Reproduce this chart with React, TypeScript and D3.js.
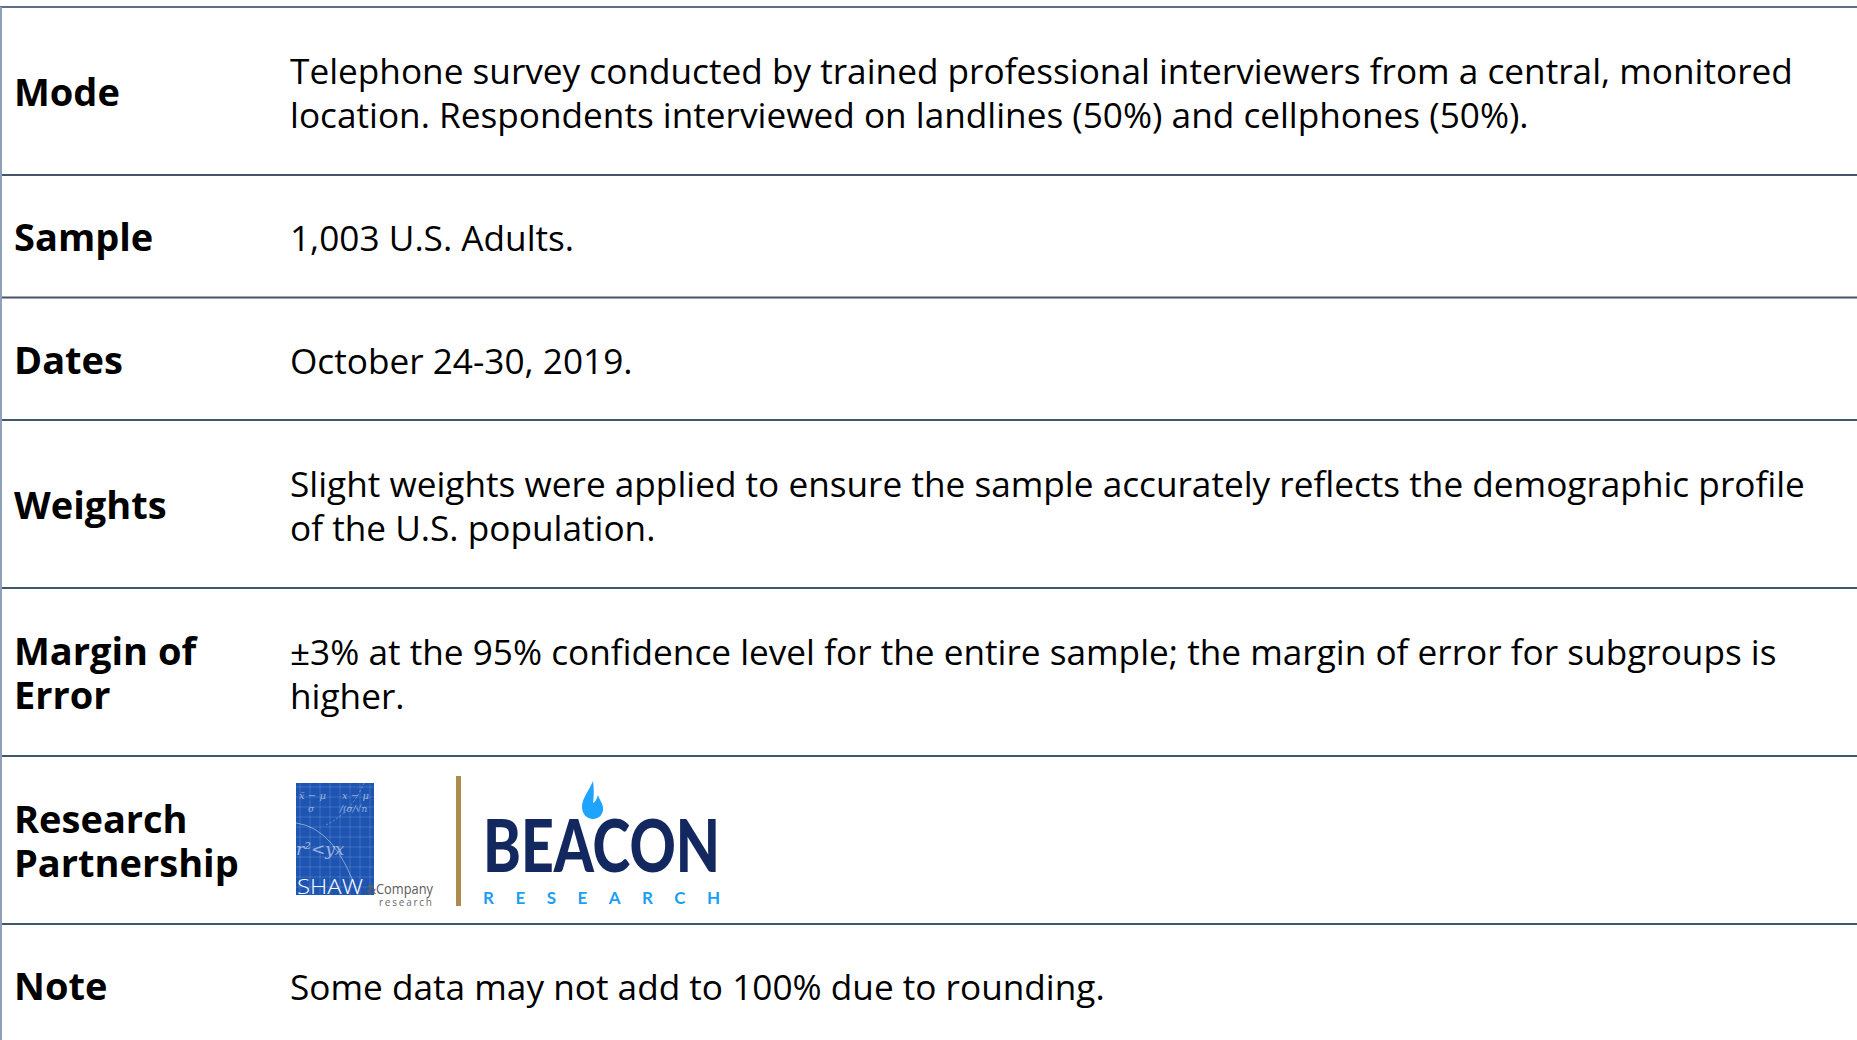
import { useEffect } from "react";
import * as d3 from "d3";

// Table content
const labels: string[][] = [
  ["Mode"],
  ["Sample"],
  ["Dates"],
  ["Weights"],
  ["Margin of", "Error"],
  ["Research", "Partnership"],
  ["Note"],
];

const details: string[][] = [
  [
    "Telephone survey conducted by trained professional interviewers from a central, monitored",
    "location. Respondents interviewed on landlines (50%) and cellphones (50%).",
  ],
  ["1,003 U.S. Adults."],
  ["October 24-30, 2019."],
  [
    "Slight weights were applied to ensure the sample accurately reflects the demographic profile",
    "of the U.S. population.",
  ],
  [
    "±3% at the 95% confidence level for the entire sample; the margin of error for subgroups is",
    "higher.",
  ],
  [],
  ["Some data may not add to 100% due to rounding."],
];

const logoRow = 5;

const W = 1857;
const H = 1040;
const TOP = 7;
const LABEL_X = 14;
const BODY_X = 290;
const FONT = "'Open Sans', 'Noto Sans', sans-serif";

function ShawLogo({ x, y }: { x: number; y: number }) {
  const w = 78;
  const h = 112;
  const vx = d3.range(4, w, 10);
  const hy = d3.range(4, h, 10);
  return (
    <g transform={`translate(${x}, ${y})`}>
      <rect width={w} height={h} fill="#1e55b3" />
      {vx.map((d) => (
        <line key={`v${d}`} x1={d} x2={d} y1={0} y2={h} stroke="#ffffff" strokeOpacity={0.18} strokeWidth={0.8} />
      ))}
      {hy.map((d) => (
        <line key={`h${d}`} x1={0} x2={w} y1={d} y2={d} stroke="#ffffff" strokeOpacity={0.18} strokeWidth={0.8} />
      ))}
      <path d={`M 0 40 Q 40 45 62 ${h}`} fill="none" stroke="#ffffff" strokeOpacity={0.45} strokeWidth={1} />
      <path d={`M 30 42 Q 55 30 68 0`} fill="none" stroke="#ffffff" strokeOpacity={0.35} strokeWidth={1} strokeDasharray="2 2" />
      <g fill="#ffffff" fillOpacity={0.55} fontFamily="'DejaVu Serif', serif" fontStyle="italic">
        <text x={3} y={16} fontSize={10}>x̄ − μ</text>
        <text x={46} y={16} fontSize={10}>x − μ</text>
        <text x={12} y={29} fontSize={9}>σ</text>
        <text x={44} y={29} fontSize={9}>/(σ/√n</text>
        <text x={0} y={72} fontSize={17}>r²&lt;yx</text>
      </g>
      <text x={1} y={h - 1} fill="#ffffff" fontFamily="'Open Sans', sans-serif" fontWeight={300} fontSize={20} textLength={66} lengthAdjust="spacingAndGlyphs">
        SHAW
      </text>
      <text x={70} y={h - 1} fill="#5a5a5a" fontFamily="'Open Sans', sans-serif" fontSize={14}>&amp;</text>
      <text x={80} y={h - 1} fill="#5a5a5a" fontFamily="'Open Sans', sans-serif" fontSize={14} textLength={57} lengthAdjust="spacingAndGlyphs">
        Company
      </text>
      <text x={83} y={h + 11} fill="#6a6a6a" fontFamily="'Open Sans', sans-serif" fontSize={10} textLength={53} lengthAdjust="spacing">
        research
      </text>
    </g>
  );
}

function BeaconLogo({ x, y }: { x: number; y: number }) {
  return (
    <g transform={`translate(${x}, ${y})`}>
      <rect x={0} y={0} width={5} height={130} fill="#ad8c4e" />
      <path
        d="M 137 5 C 133 15, 126 22, 126 31 C 126 38, 131 43, 137 43 C 143 43, 148 38, 147 31 C 146 26, 143 23, 142 19 C 141 23, 139 26, 137 27 C 138 20, 138 12, 137 5 Z"
        fill="#1ea3ff"
      />
      <text
        x={27}
        y={96}
        fill="#13285f"
        fontFamily="Lato, 'Open Sans', sans-serif"
        fontWeight={900}
        fontSize={73}
        textLength={237}
        lengthAdjust="spacingAndGlyphs"
      >
        BEACON
      </text>
      <text
        x={27}
        y={128}
        fill="#1a9ff5"
        fontFamily="Lato, 'Open Sans', sans-serif"
        fontWeight={700}
        fontSize={17}
        textLength={237}
        lengthAdjust="spacing"
      >
        RESEARCH
      </text>
    </g>
  );
}

export default function App() {
  useEffect(() => {
    document.body.style.margin = "0";
  }, []);

  const lineCounts = labels.map((l, i) => Math.max(l.length, details[i].length));
  const heights = lineCounts.map((n) => 77 + 45.5 * n);
  const bottoms = Array.from(d3.cumsum(heights), (d) => TOP + d);
  const tops = [TOP, ...bottoms.slice(0, -1)];

  const baselines = (center: number, n: number) =>
    d3.range(n).map((i) => center + 15 - (n - 1) * 22 + i * 44);

  return (
    <svg width={W} height={H} style={{ display: "block", background: "#ffffff" }}>
      <rect width={W} height={H} fill="#ffffff" />
      {labels.map((lab, i) => {
        const center = (tops[i] + bottoms[i]) / 2;
        const lb = baselines(center, lab.length);
        const db = baselines(center, details[i].length);
        return (
          <g key={`row-${i}`}>
            {lab.map((t, j) => (
              <text
                key={`l${j}`}
                x={LABEL_X}
                y={lb[j]}
                fontFamily={FONT}
                fontWeight={700}
                fontSize={38}
                fill="#000000"
              >
                {t}
              </text>
            ))}
            {details[i].map((t, j) => (
              <text key={`d${j}`} x={BODY_X} y={db[j]} fontFamily={FONT} fontSize={35.2} fill="#000000">
                {t}
              </text>
            ))}
            {i === logoRow && (
              <g>
                <ShawLogo x={296} y={tops[i] + 27} />
                <BeaconLogo x={456} y={tops[i] + 20} />
              </g>
            )}
          </g>
        );
      })}
      {/* borders */}
      <line x1={0} x2={W} y1={TOP} y2={TOP} stroke="#5b6f8c" strokeWidth={2} />
      {bottoms.slice(0, -1).map((b, i) => (
        <line key={`sep${i}`} x1={0} x2={W} y1={b} y2={b} stroke="#44546a" strokeWidth={2} />
      ))}
      <line x1={1} x2={1} y1={TOP} y2={H} stroke="#8ea0ba" strokeWidth={2} />
    </svg>
  );
}
